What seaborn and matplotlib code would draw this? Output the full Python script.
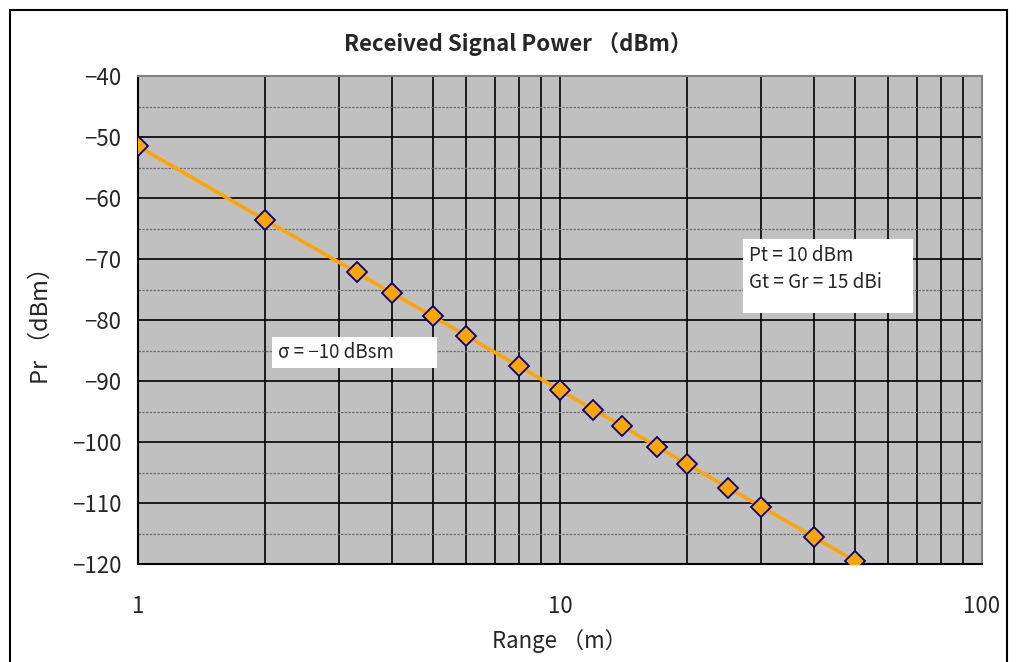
import numpy as np
import pandas as pd
import matplotlib
matplotlib.use("Agg")
import matplotlib.pyplot as plt
from matplotlib.patches import Rectangle
from matplotlib.ticker import FixedLocator, NullFormatter
import seaborn as sns

# values
range_m = [1, 2, 3.3, 4, 5, 6, 8, 10, 12, 14, 17, 20, 25, 30, 40, 50, 60]
pr_dbm = [-51.5, -63.6, -72.2, -75.6, -79.4, -82.6, -87.6, -91.5, -94.7,
          -97.3, -100.8, -103.6, -107.5, -110.6, -115.6, -119.5, -122.6]
x_ticks = [1, 10, 100]
x_ticklabels = ["1", "10", "100"]
y_ticks = [-40, -50, -60, -70, -80, -90, -100, -110, -120]

sns.set_style("white")
plt.rcParams['font.family'] = ['Noto Sans CJK JP', 'DejaVu Sans']
plt.rcParams['axes.unicode_minus'] = True

df = pd.DataFrame({"range": range_m, "pr": pr_dbm})

W, H = 1016, 662
fig = plt.figure(figsize=(W / 100, H / 100), dpi=100)
ax = fig.add_axes([138 / W, 1 - 564 / H, (982 - 138) / W, (564 - 76) / H])
ax.set_facecolor("#C0C0C0")

sns.lineplot(data=df, x="range", y="pr", ax=ax, color="#FFA500", linewidth=2.6,
             marker="D", markersize=10, markerfacecolor="#FFA500",
             markeredgecolor="#000080", markeredgewidth=1.3, zorder=5)

ax.set_xscale("log")
ax.set_xlim(1, 100)
ax.set_ylim(-120, -40)

# grid: every integer in each decade, solid black
vlines = [m * d for d in (1, 10) for m in range(1, 10)] + [100]
ax.xaxis.set_major_locator(FixedLocator(x_ticks))
ax.xaxis.set_minor_locator(FixedLocator(vlines))
ax.xaxis.set_minor_formatter(NullFormatter())
ax.set_xticks(x_ticks)
ax.set_xticklabels(x_ticklabels)
ax.set_yticks(y_ticks)
ax.set_yticks(np.arange(-115, -40, 10), minor=True)
for v in vlines:
    ax.axvline(v, color="black", lw=1.2, zorder=1)
for y in y_ticks:
    ax.axhline(y, color="black", lw=1.2, zorder=1)
for y in np.arange(-115, -40, 10):
    ax.axhline(y, color="#707070", lw=0.9, ls=(0, (2, 1)), zorder=1)

ax.tick_params(axis="both", which="both", length=0, labelsize=16, pad=12)
ax.tick_params(axis="x", pad=22)
for s in ax.spines.values():
    s.set_color("#808080")
    s.set_linewidth(1.5)
ax.spines["left"].set_color("black")
ax.spines["bottom"].set_color("black")

ax.set_xlabel("Range （m）", fontsize=16, labelpad=8)
ax.set_ylabel("Pr （dBm）", fontsize=17, labelpad=14)
fig.text(0.51, 1 - 44 / H, "Received Signal Power （dBm）", ha="center", va="center",
         fontsize=16, fontweight="bold")

# annotation boxes (white, no border)
fig.patches.append(Rectangle((272 / W, 1 - 368 / H), 165 / W, 31 / H,
                             transform=fig.transFigure, facecolor="white",
                             edgecolor="none", zorder=10))
fig.text(278 / W, 1 - 352 / H, "σ = −10 dBsm", fontsize=13.5, va="center",
         ha="left", zorder=11)
fig.patches.append(Rectangle((743 / W, 1 - 313 / H), 170 / W, 74 / H,
                             transform=fig.transFigure, facecolor="white",
                             edgecolor="none", zorder=10))
fig.text(749 / W, 1 - 255 / H, "Pt = 10 dBm", fontsize=13.5, va="center",
         ha="left", zorder=11)
fig.text(749 / W, 1 - 282 / H, "Gt = Gr = 15 dBi", fontsize=13.5, va="center",
         ha="left", zorder=11)

fig.patches.append(Rectangle((10 / W, -0.1), 997 / W, (652 / H) + 0.1,
                             transform=fig.transFigure, fill=False,
                             edgecolor="black", lw=1.5))

fig.savefig("out.png", dpi=100)
